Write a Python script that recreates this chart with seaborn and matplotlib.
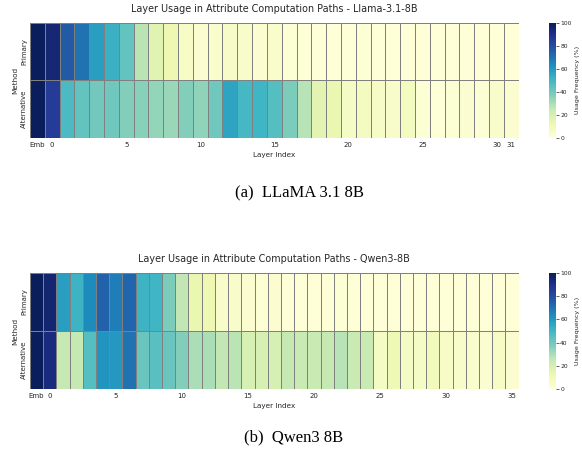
import numpy as np
import pandas as pd
import matplotlib
matplotlib.use("Agg")
import matplotlib.pyplot as plt
import seaborn as sns

# Usage frequency (%) per layer
llama_layers = ["Emb"] + [str(i) for i in range(32)]
llama_primary = [99, 94, 76, 70, 58, 52, 43, 27, 17, 12, 6, 3, 4, 6, 5, 3, 4,
                 2, 1, 1, 1, 1, 2, 1, 1, 1, 1, 1, 1, 1, 1, 1, 1]
llama_alternative = [99, 85, 48, 43, 40, 41, 37, 36, 34, 33, 37, 35, 41, 56, 49, 50, 46,
                     38, 28, 16, 14, 7, 8, 6, 5, 8, 2, 1, 2, 3, 2, 5, 3]
llama_ticks = ["Emb", "0", "5", "10", "15", "20", "25", "30", "31"]

qwen_layers = ["Emb"] + [str(i) for i in range(36)]
qwen_primary = [99, 95, 58, 51, 64, 74, 67, 73, 51, 50, 38, 26, 14, 12, 5, 5, 3, 2,
                3, 1, 1, 1, 1, 2, 1, 1, 1, 1, 1, 1, 1, 1, 1, 1, 1, 1, 1]
qwen_alternative = [99, 92, 25, 25, 46, 61, 60, 70, 42, 45, 42, 37, 30, 30, 26, 27, 20, 20,
                    20, 25, 24, 24, 25, 28, 24, 24, 7, 11, 7, 7, 10, 6, 5, 4, 3, 6, 3]
qwen_ticks = ["Emb", "0", "5", "10", "15", "20", "25", "30", "35"]

methods = ["Primary", "Alternative"]

sns.set_style("white")
plt.rcParams["font.family"] = ["DejaVu Sans"]

fig = plt.figure(figsize=(5.82, 4.59), dpi=100)


def draw(ax_rect, cax_rect, layers, primary, alternative, ticks, title):
    ax = fig.add_axes(ax_rect)
    cax = fig.add_axes(cax_rect)
    df = pd.DataFrame([primary, alternative], index=methods, columns=layers)
    labels = [c if c in ticks else "" for c in layers]
    sns.heatmap(df, ax=ax, cbar_ax=cax, cmap="YlGnBu", vmin=0, vmax=100,
                linewidths=0.6, linecolor="gray", xticklabels=labels)
    ax.set_title(title, fontsize=6.9, color=".15", pad=8)
    ax.set_xlabel("Layer Index", fontsize=5.2, color=".15", labelpad=2.5)
    ax.set_ylabel("Method", fontsize=5.2, color=".15", labelpad=2)
    ax.tick_params(axis="x", labelsize=5, rotation=0, length=0, pad=3, colors=".15")
    ax.tick_params(axis="y", labelsize=5, length=0, pad=2, colors=".15")
    ax.set_yticklabels(methods, rotation=90, va="center")
    cax.tick_params(labelsize=4.3, length=2.2, width=0.5, pad=1, colors=".15")
    cax.set_yticks([0, 20, 40, 60, 80, 100])
    cax.set_ylabel("Usage Frequency (%)", fontsize=4.6, color=".15", labelpad=2.5)
    return ax


draw([0.0515, 0.6993, 0.8397, 0.2512], [0.9433, 0.6993, 0.0115, 0.2512],
     llama_layers, llama_primary, llama_alternative, llama_ticks,
     "Layer Usage in Attribute Computation Paths - Llama-3.1-8B")
draw([0.0515, 0.1518, 0.8397, 0.254], [0.9433, 0.1518, 0.0115, 0.254],
     qwen_layers, qwen_primary, qwen_alternative, qwen_ticks,
     "Layer Usage in Attribute Computation Paths - Qwen3-8B")

fig.text(0.514, 1 - 193 / 459, "(a)  LLaMA 3.1 8B", family="Liberation Serif",
         fontsize=12, ha="center", va="center", color="black")
fig.text(0.505, 1 - 437 / 459, "(b)  Qwen3 8B", family="Liberation Serif",
         fontsize=12, ha="center", va="center", color="black")

fig.savefig("out.png", dpi=100)
